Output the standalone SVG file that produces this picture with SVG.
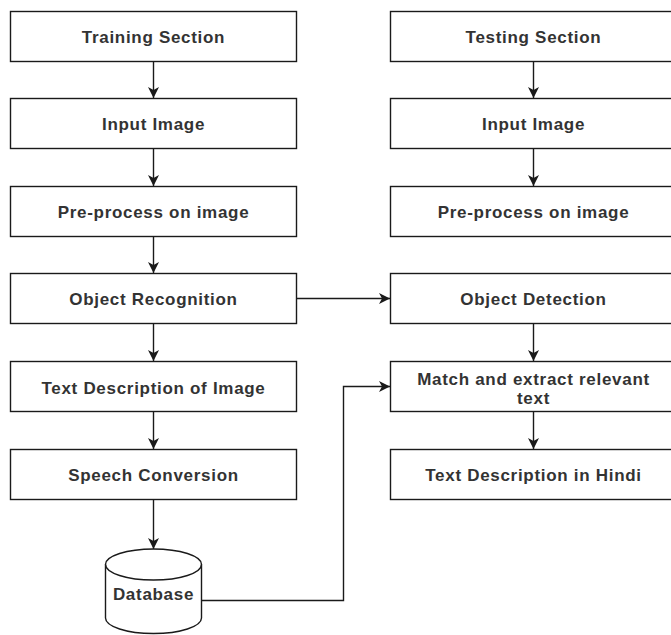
<svg xmlns="http://www.w3.org/2000/svg" width="671" height="635" viewBox="0 0 671 635">
  <style>
    .box { fill: #ffffff; stroke: #1a1a1a; stroke-width: 1.4; }
    .lbl { font-family: "Liberation Sans", Arial, sans-serif; font-weight: bold; font-size: 17px; letter-spacing: 0.7px; fill: #333333; text-anchor: middle; }
    .edge { fill: none; stroke: #1a1a1a; stroke-width: 1.4; }
  </style>
  <defs>
    <marker id="arrow" viewBox="0 0 12 12" refX="11" refY="6" markerWidth="12" markerHeight="12" markerUnits="userSpaceOnUse" orient="auto">
      <path d="M0,0.5 L11,6 L0,11.5 L3,6 Z" fill="#1a1a1a"/>
    </marker>
  </defs>
  <rect width="671" height="635" fill="#ffffff"/>

  <!-- Connectors -->
  <g id="connectors">
    <path class="edge" d="M153.5,61.5 V98" marker-end="url(#arrow)"/>
    <path class="edge" d="M153.5,148.5 V186" marker-end="url(#arrow)"/>
    <path class="edge" d="M153.5,236.5 V273" marker-end="url(#arrow)"/>
    <path class="edge" d="M153.5,323.5 V361" marker-end="url(#arrow)"/>
    <path class="edge" d="M153.5,411.5 V449" marker-end="url(#arrow)"/>
    <path class="edge" d="M153.5,499.5 V549" marker-end="url(#arrow)"/>
    <path class="edge" d="M533.5,61.5 V98" marker-end="url(#arrow)"/>
    <path class="edge" d="M533.5,148.5 V186" marker-end="url(#arrow)"/>
    <path class="edge" d="M533.5,323.5 V361" marker-end="url(#arrow)"/>
    <path class="edge" d="M533.5,411.5 V449" marker-end="url(#arrow)"/>
    <path class="edge" d="M296.5,298.5 H390" marker-end="url(#arrow)"/>
    <path class="edge" d="M201.5,600.5 H343.5 V386.5 H390" marker-end="url(#arrow)"/>
  </g>

  <!-- Training column -->
  <g id="training-section">
    <rect class="box" x="10.5" y="11.5" width="286" height="50"/>
    <text class="lbl" x="153.5" y="42.5">Training Section</text>
  </g>
  <g id="train-input-image">
    <rect class="box" x="10.5" y="98.5" width="286" height="50"/>
    <text class="lbl" x="153.5" y="129.5">Input Image</text>
  </g>
  <g id="train-preprocess">
    <rect class="box" x="10.5" y="186.5" width="286" height="50"/>
    <text class="lbl" x="153.5" y="217.5">Pre-process on image</text>
  </g>
  <g id="object-recognition">
    <rect class="box" x="10.5" y="273.5" width="286" height="50"/>
    <text class="lbl" x="153.5" y="304.5">Object Recognition</text>
  </g>
  <g id="text-description">
    <rect class="box" x="10.5" y="361.5" width="286" height="50"/>
    <text class="lbl" x="153.5" y="393.5">Text Description of Image</text>
  </g>
  <g id="speech-conversion">
    <rect class="box" x="10.5" y="449.5" width="286" height="50"/>
    <text class="lbl" x="153.5" y="481">Speech Conversion</text>
  </g>
  <g id="database">
    <path class="box" d="M105.5,564.5 A48,15.5 0 0 1 201.5,564.5 V618 A48,15.5 0 0 1 105.5,618 Z"/>
    <path class="edge" d="M105.5,564.5 A48,15.5 0 0 0 201.5,564.5"/>
    <text class="lbl" x="153.5" y="600">Database</text>
  </g>

  <!-- Testing column -->
  <g id="testing-section">
    <rect class="box" x="390.5" y="11.5" width="287" height="50"/>
    <text class="lbl" x="533.5" y="42.5">Testing Section</text>
  </g>
  <g id="test-input-image">
    <rect class="box" x="390.5" y="98.5" width="287" height="50"/>
    <text class="lbl" x="533.5" y="129.5">Input Image</text>
  </g>
  <g id="test-preprocess">
    <rect class="box" x="390.5" y="186.5" width="287" height="50"/>
    <text class="lbl" x="533.5" y="217.5">Pre-process on image</text>
  </g>
  <g id="object-detection">
    <rect class="box" x="390.5" y="273.5" width="287" height="50"/>
    <text class="lbl" x="533.5" y="304.5">Object Detection</text>
  </g>
  <g id="match-extract">
    <rect class="box" x="390.5" y="361.5" width="287" height="50"/>
    <text class="lbl" x="533.5" y="384.5">Match and extract relevant</text>
    <text class="lbl" x="533.5" y="404">text</text>
  </g>
  <g id="hindi-description">
    <rect class="box" x="390.5" y="449.5" width="287" height="50"/>
    <text class="lbl" x="533.5" y="481">Text Description in Hindi</text>
  </g>
</svg>
